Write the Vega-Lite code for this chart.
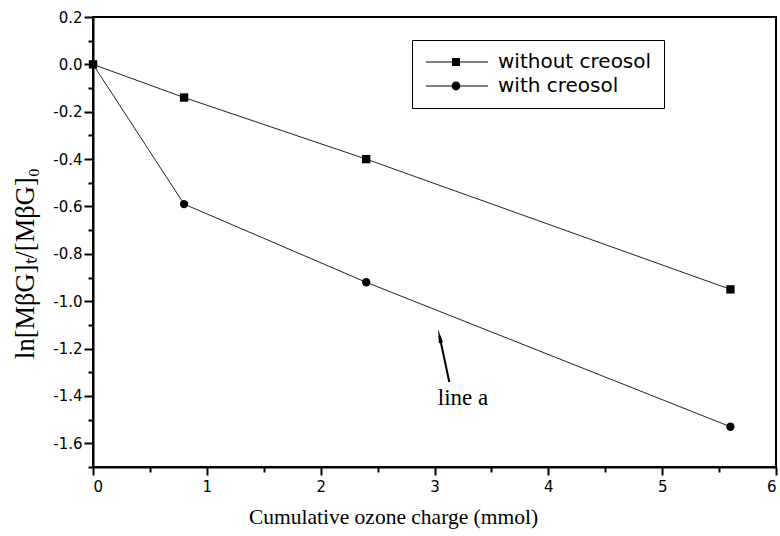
{
  "$schema": "https://vega.github.io/schema/vega-lite/v6.json",
  "width": 683,
  "height": 450,
  "autosize": {"type": "none"},
  "padding": {"left": 93, "top": 17, "right": 4, "bottom": 69},
  "background": "white",
  "config": {
    "view": {"stroke": "black", "strokeWidth": 2},
    "axis": {"grid": false, "domainColor": "black", "tickColor": "black", "labelColor": "black", "titleColor": "black"}
  },
  "datasets": {
    "pts": [
      {"x": 0, "y": 0, "series": "without creosol"},
      {"x": 0.8, "y": -0.14, "series": "without creosol"},
      {"x": 2.4, "y": -0.40, "series": "without creosol"},
      {"x": 5.6, "y": -0.95, "series": "without creosol"},
      {"x": 0, "y": 0, "series": "with creosol"},
      {"x": 0.8, "y": -0.59, "series": "with creosol"},
      {"x": 2.4, "y": -0.92, "series": "with creosol"},
      {"x": 5.6, "y": -1.53, "series": "with creosol"}
    ],
    "arrow": [{"x": 3.13, "y": -1.341, "x2": 3.044, "y2": -1.147}],
    "head": [{"x": 3.044, "y": -1.147}],
    "label": [{"x": 3.25, "y": -1.41, "text": "line a"}]
  },
  "resolve": {"axis": {"x": "independent", "y": "independent"}, "scale": {"shape": "independent"}},
  "layer": [
    {
      "data": {"name": "pts"},
      "mark": {"type": "line", "color": "#222222", "strokeWidth": 1},
      "encoding": {
        "x": {
          "field": "x", "type": "quantitative",
          "scale": {"domain": [0, 6], "nice": false, "zero": false},
          "axis": {
            "orient": "bottom", "values": [0, 1, 2, 3, 4, 5, 6], "format": "d",
            "domainWidth": 2, "tickWidth": 2, "tickSize": 8, "labelPadding": 4,
            "labelFont": "DejaVu Sans", "labelFontSize": 15,
            "title": "Cumulative ozone charge (mmol)",
            "titleFont": "Liberation Serif", "titleFontSize": 21.5, "titleFontWeight": "normal",
            "titleX": 300, "titleY": 56, "titleBaseline": "alphabetic", "titleAlign": "center"
          }
        },
        "y": {
          "field": "y", "type": "quantitative",
          "scale": {"domain": [-1.7, 0.2], "nice": false, "zero": false},
          "axis": {
            "orient": "left", "values": [-1.6, -1.4, -1.2, -1.0, -0.8, -0.6, -0.4, -0.2, 0.0, 0.2],
            "labelExpr": "replace(format(datum.value, '.1f'), '\u2212', '-')",
            "domainWidth": 2, "tickWidth": 2, "tickSize": 9, "labelPadding": 2,
            "labelFont": "DejaVu Sans", "labelFontSize": 15,
            "title": "ln[MβG]ₜ/[MβG]₀",
            "titleFont": "Liberation Serif", "titleFontSize": 26.5, "titleFontWeight": "normal",
            "titleX": -60, "titleY": 246, "titleBaseline": "alphabetic", "titleAlign": "center", "titleAngle": -90
          }
        },
        "detail": {"field": "series"}
      }
    },
    {
      "data": {"name": "pts"},
      "mark": {"type": "point", "filled": true, "color": "black", "opacity": 1, "size": 70},
      "encoding": {
        "x": {"field": "x", "type": "quantitative", "axis": null},
        "y": {"field": "y", "type": "quantitative", "axis": null},
        "shape": {
          "field": "series", "type": "nominal",
          "scale": {"domain": ["without creosol", "with creosol"], "range": ["square", "circle"]},
          "legend": null
        }
      }
    },
    {
      "data": {"name": "pts"},
      "transform": [{"filter": "datum.x < -100"}],
      "mark": {"type": "point", "filled": true, "color": "black", "opacity": 1, "size": 256},
      "encoding": {
        "x": {"field": "x", "type": "quantitative", "axis": null},
        "y": {"field": "y", "type": "quantitative", "axis": null},
        "shape": {
          "field": "series", "type": "nominal",
          "scale": {
            "domain": ["without creosol", "with creosol"],
            "range": [
              "M-1,-0.07H6.75V0.07H-1ZM2.25,-0.5H3.25V0.5H2.25Z",
              "M-1,-0.07H6.75V0.07H-1ZM2.2,0A0.55,0.55 0 1,1 3.3,0A0.55,0.55 0 1,1 2.2,0Z"
            ]
          },
          "legend": {
            "orient": "none", "legendX": 319, "legendY": 23, "title": null,
            "strokeColor": "black", "fillColor": "white", "padding": 12,
            "labelFont": "DejaVu Sans", "labelFontSize": 20, "labelColor": "black",
            "rowPadding": 4, "symbolSize": 256, "labelOffset": 54
          }
        }
      }
    },
    {
      "data": {"name": "arrow"},
      "mark": {"type": "rule", "color": "black", "strokeWidth": 2},
      "encoding": {
        "x": {
          "field": "x", "type": "quantitative",
          "axis": {"orient": "bottom", "values": [0.5, 1.5, 2.5, 3.5, 4.5, 5.5], "domain": false, "labels": false, "tickSize": 5, "tickWidth": 2, "title": null}
        },
        "y": {
          "field": "y", "type": "quantitative",
          "axis": {"orient": "left", "values": [-1.7, -1.5, -1.3, -1.1, -0.9, -0.7, -0.5, -0.3, -0.1, 0.1], "domain": false, "labels": false, "tickSize": 5, "tickWidth": 2, "title": null}
        },
        "x2": {"field": "x2"},
        "y2": {"field": "y2"}
      }
    },
    {
      "data": {"name": "head"},
      "mark": {"type": "point", "filled": true, "color": "black", "opacity": 1, "size": 196, "shape": "M0,-1L0.3,1L-0.3,1Z", "angle": -11.7},
      "encoding": {
        "x": {"field": "x", "type": "quantitative", "axis": null},
        "y": {"field": "y", "type": "quantitative", "axis": null}
      }
    },
    {
      "data": {"name": "label"},
      "mark": {"type": "text", "font": "Liberation Serif", "fontSize": 23, "color": "black", "align": "center", "baseline": "middle"},
      "encoding": {
        "x": {"field": "x", "type": "quantitative", "axis": null},
        "y": {"field": "y", "type": "quantitative", "axis": null},
        "text": {"field": "text"}
      }
    }
  ]
}
